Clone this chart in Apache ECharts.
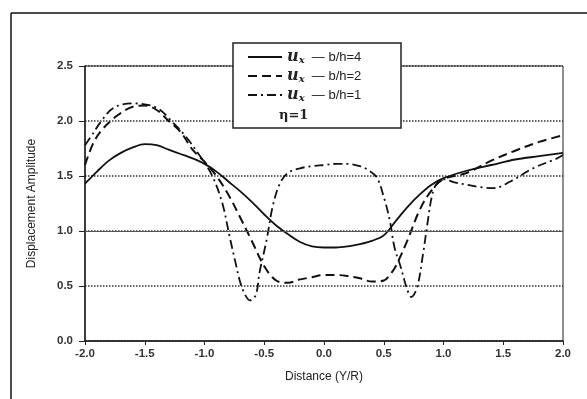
<!DOCTYPE html>
<html>
<head>
<meta charset="utf-8">
<script src="https://cdn.jsdelivr.net/npm/echarts@6/dist/echarts.min.js"></script>
<style>
html, body { margin: 0; padding: 0; background: #fff; }
#main { width: 587px; height: 399px; }
</style>
</head>
<body>
<div id="main"></div>
<script>
// b/h=4 (solid)
var x_bh4 = [-2.0,-1.9,-1.8,-1.7,-1.6,-1.5,-1.4,-1.3,-1.2,-1.1,-1.0,-0.9,-0.8,-0.7,-0.6,-0.5,-0.4,-0.3,-0.2,-0.1,0.0,0.1,0.2,0.3,0.4,0.5,0.6,0.7,0.8,0.9,1.0,1.2,1.4,1.6,1.8,2.0];
var y_bh4 = [1.43,1.54,1.64,1.71,1.76,1.79,1.78,1.74,1.70,1.66,1.61,1.54,1.45,1.36,1.26,1.15,1.05,0.97,0.90,0.86,0.85,0.85,0.86,0.88,0.91,0.96,1.09,1.22,1.33,1.42,1.48,1.55,1.60,1.65,1.68,1.71];

// b/h=2 (dashed)
var x_bh2 = [-2.0,-1.93,-1.85,-1.73,-1.6,-1.5,-1.4,-1.3,-1.2,-1.1,-1.0,-0.9,-0.8,-0.7,-0.6,-0.5,-0.4,-0.3,-0.2,-0.1,0.0,0.1,0.2,0.3,0.4,0.5,0.55,0.6,0.7,0.8,0.9,1.0,1.2,1.4,1.6,1.8,2.0];
var y_bh2 = [1.60,1.80,1.93,2.05,2.13,2.14,2.10,2.00,1.90,1.74,1.63,1.50,1.33,1.12,0.90,0.68,0.55,0.53,0.56,0.58,0.60,0.60,0.59,0.57,0.54,0.55,0.60,0.68,0.92,1.19,1.37,1.47,1.53,1.64,1.73,1.81,1.87];

// b/h=1 (dash-dot)
var x_bh1 = [-2.0,-1.93,-1.87,-1.76,-1.6,-1.4,-1.26,-1.15,-1.0,-0.93,-0.85,-0.79,-0.74,-0.70,-0.66,-0.62,-0.57,-0.54,-0.48,-0.43,-0.37,-0.3,-0.2,-0.1,0.0,0.1,0.2,0.3,0.36,0.44,0.50,0.55,0.59,0.64,0.69,0.73,0.78,0.83,0.87,0.91,0.95,1.0,1.1,1.2,1.3,1.42,1.56,1.75,1.95,2.0];
var y_bh1 = [1.78,1.89,1.99,2.12,2.16,2.12,1.98,1.85,1.62,1.49,1.25,0.95,0.71,0.53,0.42,0.37,0.42,0.62,0.92,1.22,1.43,1.53,1.57,1.59,1.60,1.61,1.61,1.59,1.56,1.49,1.31,1.10,0.85,0.68,0.49,0.40,0.49,0.80,1.10,1.35,1.44,1.47,1.44,1.42,1.40,1.39,1.45,1.57,1.66,1.69];

var legend_names = ['b/h=4', 'b/h=2', 'b/h=1'];
var x_ticks = [-2.0, 2.0, 0.5];
var y_ticks = [0.0, 2.5, 0.5];

function pairs(xs, ys) {
    var out = [];
    xs.forEach(function (x, i) { out.push([x, ys[i]]); });
    return out;
}

var myChart = echarts.init(document.getElementById('main'));
var option = {
    backgroundColor: '#fff',
    animation: false,
    grid: {
        left: 85, right: 24, top: 66, bottom: 58,
        show: true, borderColor: '#222', borderWidth: 1
    },
    legend: {
        orient: 'vertical',
        left: 242, top: 44, z: 20,
        itemWidth: 34, itemHeight: 12, itemGap: 3,
        itemStyle: { opacity: 0 },
        data: legend_names,
        formatter: function (name) {
            return '{u|u}{s|x}{t|  \u2014 ' + name + '}';
        },
        textStyle: {
            color: '#222',
            rich: {
                u: { fontFamily: 'DejaVu Serif', fontStyle: 'italic', fontWeight: 'bold', fontSize: 16, color: '#222' },
                s: { fontFamily: 'DejaVu Serif', fontStyle: 'italic', fontWeight: 'bold', fontSize: 10, color: '#222', padding: [6, 0, 0, 0] },
                t: { fontFamily: 'Liberation Sans', fontSize: 13, color: '#222' }
            }
        }
    },
    xAxis: {
        type: 'value',
        min: x_ticks[0], max: x_ticks[1], interval: x_ticks[2],
        name: 'Distance (Y/R)',
        nameLocation: 'middle', nameGap: 30,
        nameTextStyle: { fontFamily: 'Liberation Sans', fontSize: 12, color: '#222' },
        axisLine: { onZero: false, lineStyle: { color: '#222', width: 1.5 } },
        axisTick: { show: true, length: 4, lineStyle: { color: '#222' } },
        axisLabel: {
            fontFamily: 'Liberation Sans', fontSize: 11.5, fontWeight: 'bold', color: '#333', margin: 7,
            formatter: function (v) { return v.toFixed(1); }
        },
        splitLine: { show: false }
    },
    yAxis: {
        type: 'value',
        min: y_ticks[0], max: y_ticks[1], interval: y_ticks[2],
        name: 'Displacement Amplitude',
        nameLocation: 'middle', nameGap: 47,
        nameTextStyle: { fontFamily: 'Liberation Sans', fontSize: 12, color: '#222' },
        axisLine: { show: true, onZero: false, lineStyle: { color: '#222', width: 1.5 } },
        axisTick: { show: true, inside: false, length: 6, lineStyle: { color: '#222' } },
        axisLabel: {
            fontFamily: 'Liberation Sans', fontSize: 11.5, fontWeight: 'bold', color: '#333', margin: 12,
            formatter: function (v) { return v.toFixed(1); }
        },
        splitLine: { show: true, lineStyle: { color: '#333', type: 'dotted', width: 1.5 } }
    },
    graphic: [
        { type: 'line', shape: { x1: 11, y1: 13, x2: 11, y2: 399 }, style: { stroke: '#111', lineWidth: 1.5 } },
        { type: 'line', shape: { x1: 11, y1: 13, x2: 587, y2: 13 }, style: { stroke: '#111', lineWidth: 1.5 } },
        { type: 'rect', shape: { x: 233, y: 43, width: 168, height: 85 }, style: { fill: '#fff', stroke: '#222', lineWidth: 1.5 }, z: 1 },
        { type: 'text', left: 279, top: 109, style: { text: '\u03b7=1', font: 'bold 13px "DejaVu Serif"', fill: '#222' }, z: 2 }
    ],
    series: [
        {
            name: legend_names[0], type: 'line', data: pairs(x_bh4, y_bh4),
            smooth: 0.35, symbol: 'none',
            lineStyle: { color: '#111', width: 1.8, type: 'solid' },
            itemStyle: { color: '#111' },
            markLine: {
                silent: true, symbol: 'none', label: { show: false },
                lineStyle: { color: '#555', type: 'solid', width: 1 },
                data: [{ yAxis: 1.0 }]
            }
        },
        {
            name: legend_names[1], type: 'line', data: pairs(x_bh2, y_bh2),
            smooth: 0.35, symbol: 'none',
            lineStyle: { color: '#111', width: 2, type: [9, 5] },
            itemStyle: { color: '#111' }
        },
        {
            name: legend_names[2], type: 'line', data: pairs(x_bh1, y_bh1),
            smooth: 0.35, symbol: 'none',
            lineStyle: { color: '#111', width: 1.8, type: [9, 4, 2, 4] },
            itemStyle: { color: '#111' }
        }
    ]
};
myChart.setOption(option);
</script>
</body>
</html>
